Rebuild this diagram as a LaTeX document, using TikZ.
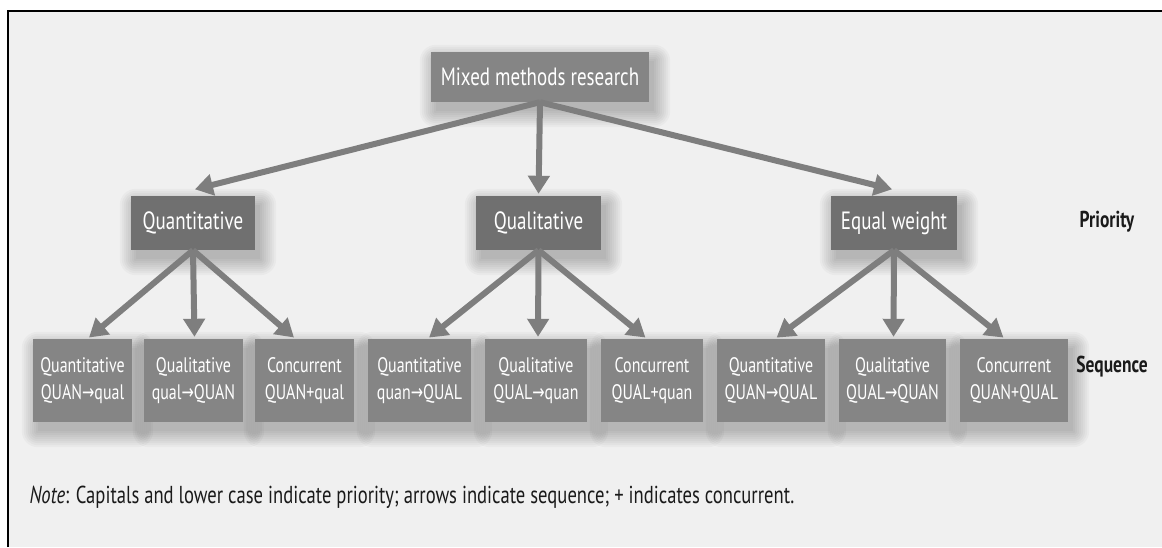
\documentclass[tikz,border=0pt]{standalone}
\usepackage{fontspec}
\setmainfont[FakeStretch=0.76]{PT Sans}
\newfontfamily\arrfont[FakeStretch=0.7]{DejaVu Sans}
\usetikzlibrary{arrows.meta,calc}
\definecolor{bgc}{HTML}{F0F0F0}
\definecolor{boxlight}{HTML}{858585}
\definecolor{boxdark}{HTML}{707070}
\definecolor{arrowc}{HTML}{7E7E7E}
\definecolor{txtc}{HTML}{1A1A1A}
\pgfdeclarelayer{bglayer}
\pgfdeclarelayer{shadowlayer}
\pgfsetlayers{bglayer,shadowlayer,main}
\newcommand{\ar}{{\arrfont →}}
\newcommand{\softshadow}[1]{%
  \begin{pgfonlayer}{shadowlayer}
  \foreach \r in {0,2,...,16}{%
    \fill[black, fill opacity=0.028, rounded corners=\r pt]
      ($(#1.north west)+(5-\r,9-\r)$) rectangle ($(#1.south east)+(5+\r,9+\r)$);
  }
  \end{pgfonlayer}}
\tikzset{
  topbox/.style={fill=boxlight, text=white, inner sep=0pt, minimum width=218pt, minimum height=50pt, font=\fontsize{25}{28}\selectfont},
  midbox/.style={fill=boxdark, text=white, inner sep=0pt, minimum height=54pt, font=\fontsize{25}{28}\selectfont},
  leafbox/.style={fill=boxlight, text=white, inner sep=0pt, minimum height=83pt, align=center, font=\fontsize{21}{27}\selectfont},
  sidelabel/.style={text=txtc, font=\bfseries\fontsize{23}{26}\selectfont},
  conn/.style={draw=arrowc, line width=6pt, -{Triangle[width=21pt,length=18pt]}, shorten >=2pt}
}
\begin{document}
\begin{tikzpicture}[x=1pt,y=-1pt]
\useasboundingbox (0,0) rectangle (1162,547);
\begin{pgfonlayer}{bglayer}
\fill[white] (0,0) rectangle (1162,547);
\fill[bgc] (8,11) rectangle (1162,547);
\end{pgfonlayer}
\draw[black, line width=2.2pt] (8,547) -- (8,11) -- (1162,11);

\node[topbox] (top) at (540,77) {Mixed methods research};

\node[midbox, minimum width=124pt] (quant) at (193,223) {Quantitative};
\node[midbox, minimum width=125pt] (qual) at (538.5,223) {Qualitative};
\node[midbox, minimum width=126pt] (equal) at (894,223) {Equal weight};

\node[sidelabel] (prio) at (1107,222) {Priority};
\node[sidelabel] (seq) at (1112,367) {Sequence};

\node[leafbox, minimum width=99pt] (b1) at (82.5,380.5) {Quantitative\\QUAN\ar qual};
\node[leafbox, minimum width=99pt] (b2) at (193.5,380.5) {Qualitative\\qual\ar QUAN};
\node[leafbox, minimum width=99pt] (b3) at (304.5,380.5) {Concurrent\\QUAN+qual};
\node[leafbox, minimum width=103pt] (b4) at (419.5,380.5) {Quantitative\\quan\ar QUAL};
\node[leafbox, minimum width=102pt] (b5) at (536,380.5) {Qualitative\\QUAL\ar quan};
\node[leafbox, minimum width=102pt] (b6) at (652,380.5) {Concurrent\\QUAL+quan};
\node[leafbox, minimum width=108pt] (b7) at (771,380.5) {Quantitative\\QUAN\ar QUAL};
\node[leafbox, minimum width=107pt] (b8) at (892.5,380.5) {Qualitative\\QUAL\ar QUAN};
\node[leafbox, minimum width=108pt] (b9) at (1014,380.5) {Concurrent\\QUAN+QUAL};

\foreach \n in {top,quant,qual,equal,b1,b2,b3,b4,b5,b6,b7,b8,b9}{\softshadow{\n}}

\node[anchor=west, text=txtc, font=\fontsize{24.5}{27}\selectfont] (note) at (26,497) {\textit{Note}: Capitals and lower case indicate priority; arrows indicate sequence; + indicates concurrent.};

\draw[conn] (top.south) -- ([yshift=6pt]quant.north);
\draw[conn] (top.south) -- (qual.north);
\draw[conn] (top.south) -- ([yshift=6pt]equal.north);

\draw[conn] (quant.south) -- ([xshift=5pt]b1.north);
\draw[conn] (quant.south) -- ([xshift=1pt]b2.north);
\draw[conn] (quant.south) -- ([xshift=-9pt]b3.north);
\draw[conn] (qual.south) -- ([xshift=8pt]b4.north);
\draw[conn] (qual.south) -- ([xshift=2pt]b5.north);
\draw[conn] (qual.south) -- ([xshift=-5pt]b6.north);
\draw[conn] (equal.south) -- ([xshift=4pt]b7.north);
\draw[conn] (equal.south) -- ([xshift=1pt]b8.north);
\draw[conn] (equal.south) -- ([xshift=-9pt]b9.north);
\end{tikzpicture}
\end{document}
